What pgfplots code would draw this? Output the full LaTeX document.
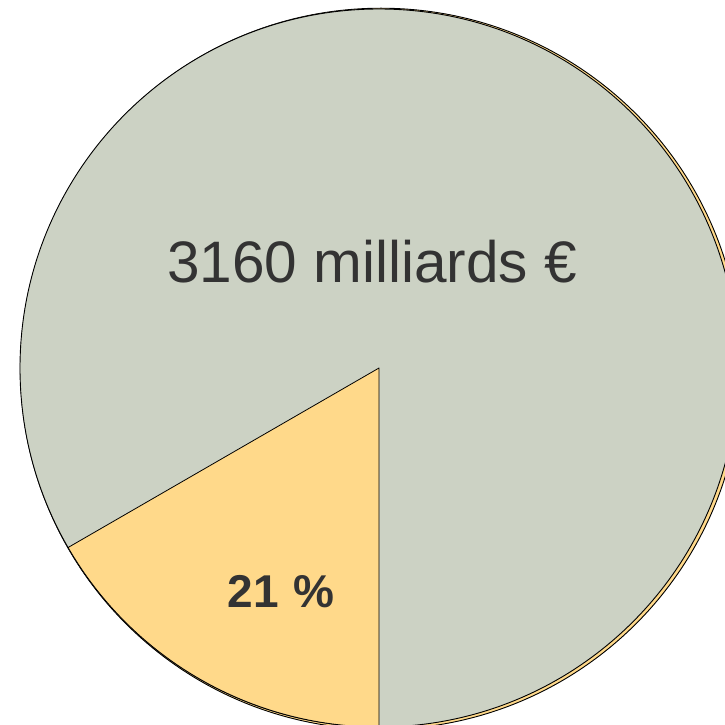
\documentclass[border=0pt]{standalone}
\usepackage{pgfplots}
\pgfplotsset{compat=1.18}
\usepackage{pgfplotstable}
\usepackage{fontspec}
\setmainfont{Liberation Sans}
\definecolor{pieGrey}{HTML}{CCD2C4}
\definecolor{pieYellow}{HTML}{FFD98A}
\definecolor{txt}{HTML}{333333}
% slice drawn in yellow: start and end angle (degrees)
\pgfplotstableread{
start end
210 270
}\slices
\begin{document}
\begin{tikzpicture}
\pgfplotstablegetelem{0}{start}\of\slices \let\sA\pgfplotsretval
\pgfplotstablegetelem{0}{end}\of\slices \let\sB\pgfplotsretval
\begin{axis}[x=1pt,y=1pt,xmin=0,xmax=725,ymin=-724,ymax=0,
  hide axis, clip=true, scale only axis]
\draw[black, line width=0.9pt, fill=pieYellow] (axis cs:381,-368.8) circle[radius=360.6];
\draw[black, line width=0.9pt, fill=pieGrey] (axis cs:379,-368) circle[radius=359];
\draw[black, line width=0.8pt, fill=pieYellow, line join=round]
  (axis cs:379,-368) -- ++(\sA:359pt) arc[start angle=\sA, end angle=\sB, radius=359pt] -- cycle;
\node[txt, font=\fontsize{58.5}{60}\selectfont, anchor=base, inner sep=0pt] at (axis cs:372,-283) {3160 milliards €};
\node[txt, font=\fontsize{46}{48}\selectfont\bfseries, anchor=base, inner sep=0pt] at (axis cs:281,-607) {21\hspace{15pt}\%};
\end{axis}
\pgfresetboundingbox
\path (current axis.south west) rectangle (current axis.north east);
\end{tikzpicture}
\end{document}
